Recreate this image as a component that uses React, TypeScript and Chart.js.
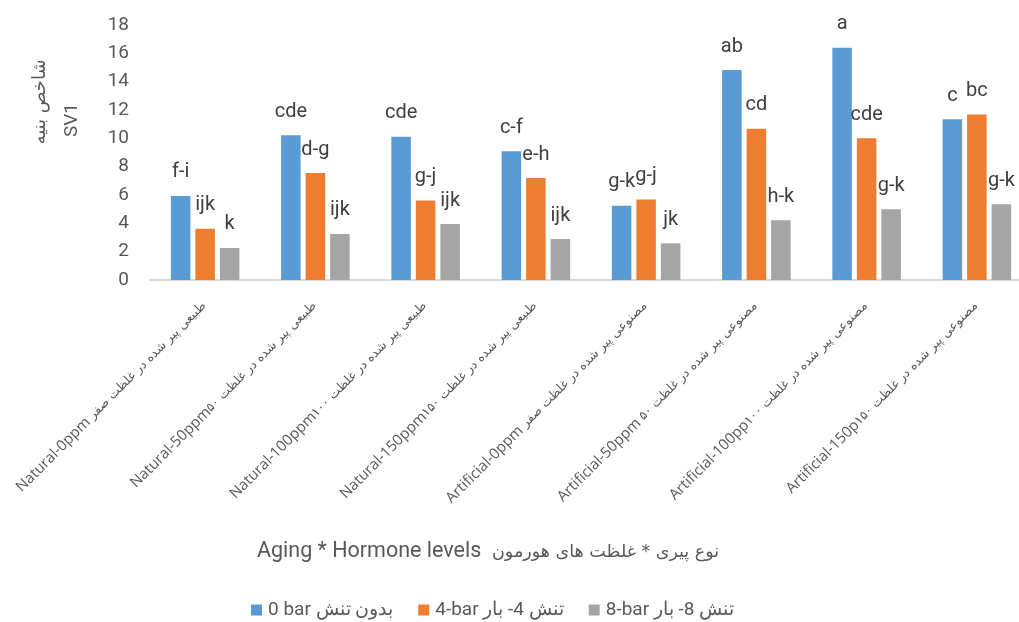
import React, { useEffect, useRef } from "react";
import { Chart, registerables } from "chart.js";

Chart.register(...registerables);

// category labels: Latin part + Persian part (shown together on the rotated tick)
const categoryLatin = [
  "Natural-0ppm ",
  "Natural-50ppm",
  "Natural-100ppm",
  "Natural-150ppm",
  "Artificial-0ppm ",
  "Artificial-50ppm ",
  "Artificial-100pp",
  "Artificial-150p",
];
const categoryPersian = [
  "طبیعی پیر شده در غلظت صفر",
  "طبیعی پیر شده در غلظت ۵۰",
  "طبیعی پیر شده در غلظت ۱۰۰",
  "طبیعی پیر شده در غلظت ۱۵۰",
  "مصنوعی پیر شده در غلظت صفر",
  "مصنوعی پیر شده در غلظت ۵۰",
  "مصنوعی پیر شده در غلظت ۱۰۰",
  "مصنوعی پیر شده در غلظت ۱۵۰",
];
const categories = categoryLatin.map((l, i) => l + categoryPersian[i]);

const seriesNames = ["0 bar بدون تنش", "4-bar تنش 4- بار", "8-bar تنش 8- بار"];
const seriesColors = ["#5B9BD5", "#ED7D31", "#A5A5A5"];

const values0bar = [5.93, 10.21, 10.11, 9.08, 5.24, 14.82, 16.39, 11.34];
const values4bar = [3.62, 7.55, 5.62, 7.2, 5.69, 10.68, 10.0, 11.69];
const values8bar = [2.26, 3.25, 3.95, 2.89, 2.59, 4.21, 4.99, 5.34];

const letters0bar = ["f-i", "cde", "cde", "c-f", "g-k", "ab", "a", "c"];
const letters4bar = ["ijk", "d-g", "g-j", "e-h", "g-j", "cd", "cde", "bc"];
const letters8bar = ["k", "ijk", "ijk", "ijk", "jk", "h-k", "g-k", "g-k"];

const yMin = 0;
const yMax = 18;
const yStep = 2;

const yTitleLines = ["شاخص بنیه", "SV1"];
const xTitleLatin = "Aging * Hormone levels";
const xTitlePersian = "نوع پیری * غلظت های هورمون";

const TEXT = "#595959";

const overlayPlugin = {
  id: "overlay",
  afterDatasetsDraw(chart: any) {
    const ctx = chart.ctx;
    ctx.save();
    ctx.direction = "ltr";
    ctx.font = "20px Roboto";
    ctx.fillStyle = "#404040";
    ctx.textAlign = "center";
    ctx.textBaseline = "middle";
    chart.data.datasets.forEach((ds: any, i: number) => {
      const meta = chart.getDatasetMeta(i);
      meta.data.forEach((el: any, j: number) => {
        ctx.fillText(ds.letters[j], el.x, el.y - 23.5);
      });
    });
    ctx.restore();
  },
  afterDraw(chart: any) {
    const ctx = chart.ctx;
    ctx.save();
    ctx.direction = "ltr";
    ctx.fillStyle = TEXT;
    ctx.textAlign = "left";
    ctx.textBaseline = "middle";

    // rotated category labels (right end at the category centre)
    const xs = chart.scales.x;
    const bottom = chart.chartArea.bottom;
    chart.data.labels.forEach((_: any, i: number) => {
      const px = xs.getPixelForValue(i);
      ctx.save();
      ctx.translate(px - 1, bottom + 24);
      ctx.rotate(-Math.PI / 4);
      ctx.font = '12.5px "DejaVu Sans"';
      const pw = ctx.measureText(categoryPersian[i]).width;
      ctx.fillText(categoryPersian[i], -pw, 0);
      ctx.font = '15px "Open Sans"';
      const lw = ctx.measureText(categoryLatin[i]).width;
      ctx.fillText(categoryLatin[i], -pw - lw, 0);
      ctx.restore();
    });

    // y-axis title (two rotated lines), centred explicitly
    const titleFonts = ['18px "DejaVu Sans"', "19px Roboto"];
    const titleX = [40, 72];
    const titleY = [102, 120];
    yTitleLines.forEach((line, i) => {
      ctx.save();
      ctx.font = titleFonts[i];
      const w = ctx.measureText(line).width;
      ctx.translate(titleX[i], titleY[i]);
      ctx.rotate(-Math.PI / 2);
      ctx.fillText(line, -w / 2, 0);
      ctx.restore();
    });

    // x-axis title
    ctx.font = "21.5px Roboto";
    ctx.fillText(xTitleLatin, 257, 552);
    ctx.font = '17.5px "DejaVu Sans"';
    ctx.fillText(xTitlePersian, 492, 552);

    // legend
    ctx.font = "19px Roboto";
    let x = 251;
    const y = 610;
    chart.data.datasets.forEach((ds: any) => {
      ctx.fillStyle = ds.backgroundColor;
      ctx.fillRect(x, y - 5.5, 11, 11);
      x += 17;
      ctx.fillStyle = TEXT;
      ctx.fillText(ds.label, x, y);
      x += ctx.measureText(ds.label).width + 25;
    });
    ctx.restore();
  },
};

export default function App() {
  const ref = useRef<HTMLCanvasElement | null>(null);
  useEffect(() => {
    if (!ref.current) return;
    const chart = new Chart(ref.current, {
      type: "bar",
      data: {
        labels: categories,
        datasets: [values0bar, values4bar, values8bar].map((vals, i) => ({
          label: seriesNames[i],
          data: vals,
          backgroundColor: seriesColors[i],
          borderWidth: 0,
          categoryPercentage: 0.667,
          barPercentage: 0.796,
          letters: [letters0bar, letters4bar, letters8bar][i],
        })) as any,
      },
      options: {
        animation: false,
        responsive: false,
        devicePixelRatio: 1,
        layout: { padding: { top: 25, left: 0, right: 0, bottom: 0 } },
        plugins: {
          legend: { display: false },
          tooltip: { enabled: false },
        },
        scales: {
          x: {
            afterFit: (s: any) => {
              s.height = 622 - 280;
            },
            grid: { display: false },
            border: { display: true, color: "#D9D9D9", width: 2 },
            ticks: { display: false },
          },
          y: {
            min: yMin,
            max: yMax,
            afterFit: (s: any) => {
              s.width = 150;
              s.paddingTop = 0;
              s.paddingBottom = 0;
            },
            grid: { display: false, drawTicks: false },
            border: { display: false },
            ticks: {
              stepSize: yStep,
              padding: 21,
              color: TEXT,
              font: { family: "Roboto", size: 19 },
            },
          },
        },
      },
      plugins: [overlayPlugin],
    });
    return () => chart.destroy();
  }, []);
  return (
    <div
      style={{
        position: "fixed",
        left: 0,
        top: 0,
        width: 1019,
        height: 622,
        overflow: "hidden",
        background: "#fff",
      }}
    >
      <canvas ref={ref} width={1032} height={622} style={{ display: "block" }} />
    </div>
  );
}
